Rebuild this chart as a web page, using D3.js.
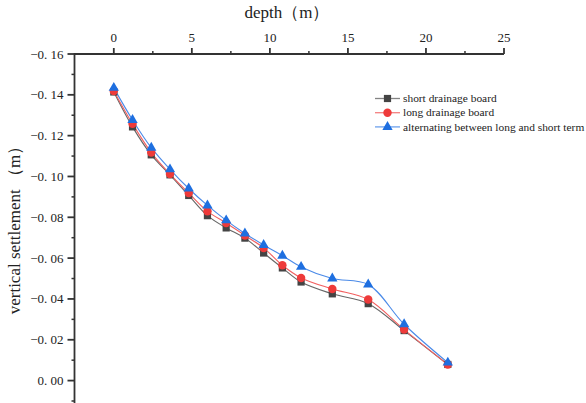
<!DOCTYPE html>
<html><head><meta charset="utf-8">
<script src="https://cdn.jsdelivr.net/npm/d3@7"></script>
<style>body{margin:0;background:#fff}svg{display:block}text{font-family:"Liberation Serif","Times New Roman",serif;fill:#222}</style>
</head><body><svg id="c" width="586" height="403"></svg>
<script>
const depth = [0, 1.2, 2.4, 3.6, 4.8, 6.0, 7.2, 8.4, 9.6, 10.8, 12.0, 14.0, 16.3, 18.6, 21.4];
const shortBoard = [-0.1414, -0.1243, -0.1106, -0.1008, -0.0907, -0.0808, -0.0748, -0.0698, -0.0625, -0.0552, -0.0483, -0.0425, -0.0377, -0.0245, -0.0079];
const longBoard = [-0.1419, -0.1258, -0.1117, -0.1012, -0.0919, -0.0829, -0.0772, -0.0711, -0.0650, -0.0565, -0.0503, -0.0449, -0.0397, -0.0250, -0.0079];
const alternating = [-0.1434, -0.1277, -0.1141, -0.1035, -0.0941, -0.0858, -0.0785, -0.0721, -0.0664, -0.0612, -0.0557, -0.0500, -0.0471, -0.0276, -0.0088];
const seriesNames = ["short drainage board", "long drainage board", "alternating between long and short term"];
const xTicks = [0, 5, 10, 15, 20, 25];
const yTicks = [-0.16, -0.14, -0.12, -0.10, -0.08, -0.06, -0.04, -0.02, 0.00];

const svg = d3.select("#c");
const x = d3.scaleLinear().domain([-2.55, 25]).range([74, 504]);
const y = d3.scaleLinear().domain([-0.16, 0.01]).range([54, 401]);

const fmt = v => {
  const s = Math.abs(v).toFixed(2).replace(".", ". ");
  return (v < -1e-9 ? "\u22120" + s.slice(1) : s);
};

// x axis (top)
const xAx = svg.append("g").attr("transform", "translate(0,54)");
xAx.append("line").attr("x1", 74).attr("x2", 504).attr("stroke", "#333").attr("stroke-width", 1.8);
xAx.selectAll(".mj").data(xTicks).join("line").attr("x1", d => x(d)).attr("x2", d => x(d)).attr("y1", 0).attr("y2", -6).attr("stroke", "#333").attr("stroke-width", 1.8);
xAx.selectAll(".mn").data(d3.range(2.5, 25, 5)).join("line").attr("x1", d => x(d)).attr("x2", d => x(d)).attr("y1", 0).attr("y2", -3).attr("stroke", "#333").attr("stroke-width", 1.5);
xAx.selectAll("text").data(xTicks).join("text").attr("x", d => x(d)).attr("y", -12).attr("text-anchor", "middle").attr("font-size", 13).text(d => d);

// y axis (left)
const yAx = svg.append("g").attr("transform", "translate(74.5,0)");
yAx.append("line").attr("y1", 53).attr("y2", 403).attr("stroke", "#333").attr("stroke-width", 1.8);
yAx.selectAll(".mj").data(yTicks).join("line").attr("y1", d => y(d)).attr("y2", d => y(d)).attr("x1", 0).attr("x2", -7).attr("stroke", "#333").attr("stroke-width", 1.8);
yAx.selectAll(".mn").data(d3.range(-0.15, 0.011, 0.02)).join("line").attr("y1", d => y(d)).attr("y2", d => y(d)).attr("x1", 0).attr("x2", -3).attr("stroke", "#333").attr("stroke-width", 1.5);
yAx.selectAll("text").data(yTicks).join("text").attr("x", -11).attr("y", d => y(d)).attr("dy", "0.35em").attr("text-anchor", "end").attr("font-size", 13).text(d => fmt(d));

// titles
svg.append("text").attr("x", 287).attr("y", 18).attr("text-anchor", "middle").attr("font-size", 17).text("depth\uFF08m\uFF09");
svg.append("text").attr("transform", "translate(20,226) rotate(-90)").attr("text-anchor", "middle").attr("font-size", 17).text("vertical settlement \uFF08m\uFF09");

const series = [
  {name: seriesNames[0], vals: shortBoard, color: "#444", line: "#666", shape: "square"},
  {name: seriesNames[1], vals: longBoard, color: "#ee3a3a", line: "#f26060", shape: "circle"},
  {name: seriesNames[2], vals: alternating, color: "#1e6fe0", line: "#4a8ae8", shape: "triangle"}
];
const symFor = s => s === "square" ? d3.symbol(d3.symbolSquare, 52) : s === "circle" ? d3.symbol(d3.symbolCircle, 56) : d3.symbol(d3.symbolTriangle, 46);

const line = d3.line().curve(d3.curveCatmullRom.alpha(0.5)).x(d => x(d[0])).y(d => y(d[1]));
series.forEach(s => {
  const pts = depth.map((d, i) => [d, s.vals[i]]);
  svg.append("path").attr("d", line(pts)).attr("fill", "none").attr("stroke", s.line).attr("stroke-width", 1.1);
});
series.forEach(s => {
  const pts = depth.map((d, i) => [d, s.vals[i]]);
  svg.append("g").selectAll("path").data(pts).join("path")
    .attr("transform", d => `translate(${x(d[0])},${y(d[1])})`)
    .attr("d", symFor(s.shape)()).attr("fill", s.color);
});

// legend
const lg = svg.append("g");
series.forEach((s, i) => {
  const yy = 98.5 + i * 14.2;
  lg.append("line").attr("x1", 375).attr("x2", 400).attr("y1", yy).attr("y2", yy).attr("stroke", s.line).attr("stroke-width", 1.3).attr("opacity", 0.8);
  lg.append("path").attr("transform", `translate(387.5,${yy})`).attr("d", symFor(s.shape)()).attr("fill", s.color);
  lg.append("text").attr("x", 403).attr("y", yy).attr("dy", "0.33em").attr("font-size", 11.4).text(s.name);
});
</script></body></html>
